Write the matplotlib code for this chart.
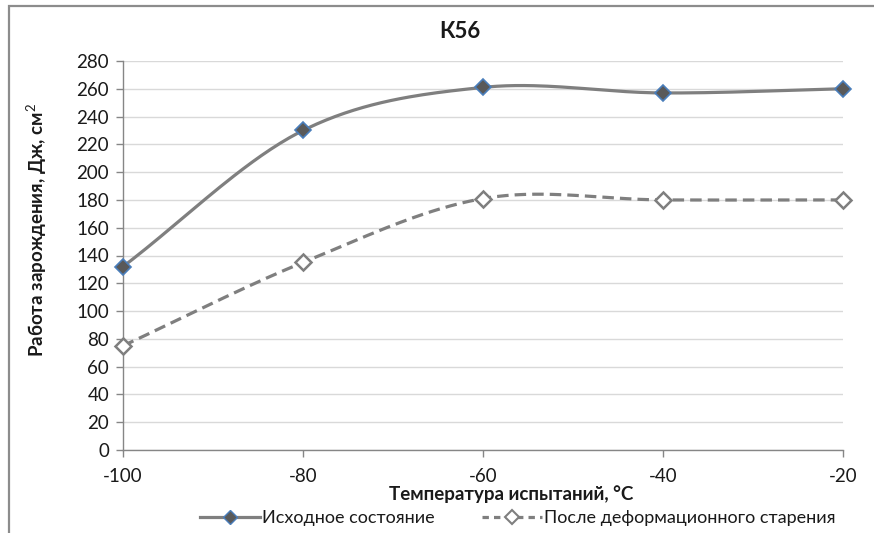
import numpy as np
import matplotlib
matplotlib.use("Agg")
import matplotlib.pyplot as plt
from matplotlib.lines import Line2D
from matplotlib.patches import Rectangle

# Data
temperatures = [-100, -80, -60, -40, -20]
initial_state = [132, 230, 261, 257, 260]
after_aging = [75, 135, 181, 180, 180]
y_ticks = list(range(0, 281, 20))

title_text = "К56"
x_label = "Температура испытаний, °С"
y_label = "Работа зарождения, Дж, см$^2$"
legend_labels = ["Исходное состояние", "После деформационного старения"]

plt.rcParams['font.family'] = ['Lato', 'DejaVu Sans']
plt.rcParams['axes.unicode_minus'] = False
plt.rcParams['mathtext.fontset'] = 'custom'
plt.rcParams['mathtext.rm'] = 'Lato'
plt.rcParams['mathtext.bf'] = 'Lato:bold'


def smooth(xs, ys, n=40):
    """Catmull-Rom spline through the given points."""
    xs = np.asarray(xs, float)
    ys = np.asarray(ys, float)
    px = np.concatenate([[2 * xs[0] - xs[1]], xs, [2 * xs[-1] - xs[-2]]])
    py = np.concatenate([[2 * ys[0] - ys[1]], ys, [2 * ys[-1] - ys[-2]]])
    outx, outy = [], []
    t = np.linspace(0, 1, n)
    for i in range(1, len(px) - 2):
        for p, out in ((px, outx), (py, outy)):
            p0, p1, p2, p3 = p[i - 1], p[i], p[i + 1], p[i + 2]
            seg = 0.5 * ((2 * p1) + (-p0 + p2) * t
                         + (2 * p0 - 5 * p1 + 4 * p2 - p3) * t ** 2
                         + (-p0 + 3 * p1 - 3 * p2 + p3) * t ** 3)
            out.extend(seg if i == 1 else seg[1:])
    return np.array(outx), np.array(outy)


W, H = 874, 533
fig = plt.figure(figsize=(W / 100, H / 100), dpi=100)

# Chart frame
fig.add_artist(Rectangle((9 / W, -0.1), 1.2, 1 - 6 / H + 0.1,
                         transform=fig.transFigure, fill=False,
                         edgecolor='#8c8c8c', linewidth=1.6))

ax = fig.add_axes([123 / W, 1 - 450 / H, (843 - 123) / W, (450 - 61) / H])
ax.set_xlim(-100, -20)
ax.set_ylim(0, 280)
ax.set_yticks(y_ticks)
ax.set_xticks(temperatures)
ax.grid(axis='y', color='#d9d9d9', linewidth=1.0)
ax.set_axisbelow(True)
for s in ('top', 'right'):
    ax.spines[s].set_visible(False)
for s in ('left', 'bottom'):
    ax.spines[s].set_color('#868686')
    ax.spines[s].set_linewidth(1.0)
ax.tick_params(axis='both', colors='#868686', labelcolor='#1a1a1a',
               labelsize=13.5, length=5, width=1.0)
ax.tick_params(axis='x', pad=8)
ax.tick_params(axis='y', pad=5)

line_gray = '#7f7f7f'
dash = (0, (3.6, 1.9))
sx, sy = smooth(temperatures, initial_state)
ax.plot(sx, sy, color=line_gray, linewidth=2.3, solid_capstyle='round',
        clip_on=False, zorder=3)
ax.plot(temperatures, initial_state, linestyle='none', marker='D',
        markersize=8.5, markerfacecolor='#595959', markeredgecolor='#4a7ebb',
        markeredgewidth=1.2, clip_on=False, zorder=4)

sx2, sy2 = smooth(temperatures, after_aging)
ax.plot(sx2, sy2, color=line_gray, linewidth=2.3, linestyle=dash,
        clip_on=False, zorder=3)
ax.plot(temperatures, after_aging, linestyle='none', marker='D',
        markersize=8.5, markerfacecolor='white', markeredgecolor=line_gray,
        markeredgewidth=1.8, clip_on=False, zorder=4)

fig.text(460 / W, 1 - 32 / H, title_text, ha='center', va='center',
         fontsize=16, fontweight='bold', color='#1a1a1a')
fig.text(511 / W, 1 - 494 / H, x_label, ha='center', va='center',
         fontsize=13.5, fontweight='bold', color='#1a1a1a')
fig.text(37 / W, 1 - 230 / H, y_label, ha='center', va='center',
         rotation=90, fontsize=13.5, fontweight='bold', color='#1a1a1a')

handles = [
    Line2D([], [], color=line_gray, linewidth=2.3, marker='D', markersize=7,
           markerfacecolor='#595959', markeredgecolor='#4a7ebb',
           markeredgewidth=1.0),
    Line2D([], [], color=line_gray, linewidth=2.3, linestyle=(0, (2.0, 1.6)),
           marker='D', markersize=7, markerfacecolor='white',
           markeredgecolor=line_gray, markeredgewidth=1.5),
]
fig.legend(handles, legend_labels, loc='center', ncol=2,
           bbox_to_anchor=(518 / W, 1 - 518 / H), frameon=False,
           fontsize=13, handlelength=3.3, handletextpad=0.15,
           columnspacing=2.6, labelcolor='#1a1a1a')

fig.savefig('out.png', dpi=100)
